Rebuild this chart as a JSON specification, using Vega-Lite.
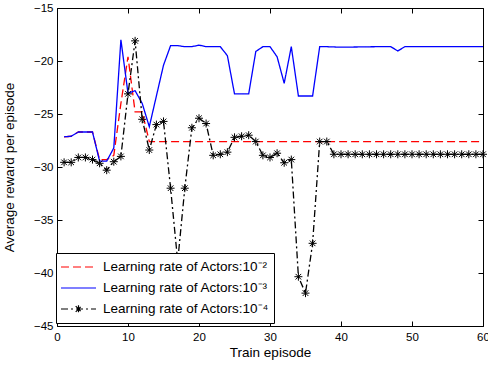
{
  "$schema": "https://vega.github.io/schema/vega-lite/v6.json",
  "width": 426,
  "height": 318,
  "autosize": {"type": "none"},
  "padding": {"left": 57, "top": 8, "right": 5, "bottom": 41},
  "background": "white",
  "config": {
    "view": {"stroke": "black", "strokeWidth": 1},
    "font": "Liberation Sans",
    "axis": {
      "domain": false, "grid": false, "tickColor": "black", "tickSize": -5, "tickWidth": 1,
      "labelColor": "black", "labelFontSize": 11.5, "titleColor": "black", "titleFontSize": 13.5,
      "titleFontWeight": "normal", "labelFlush": false
    },
    "legend": {
      "orient": "none", "legendX": -1, "legendY": 245,
      "padding": 4, "strokeColor": "black", "fillColor": "white",
      "clipHeight": 20, "rowPadding": 1, "labelFontSize": 13.5, "labelColor": "black",
      "symbolSize": 1225, "symbolStrokeWidth": 1.2, "labelOffset": 6, "labelLimit": 300
    }
  },
  "data": {"values": [
    {"ep":1,"v":-27.15,"s":"2"},{"ep":2,"v":-27.1,"s":"2"},{"ep":3,"v":-26.7,"s":"2"},{"ep":4,"v":-26.7,"s":"2"},{"ep":5,"v":-26.7,"s":"2"},
    {"ep":6,"v":-29.3,"s":"2"},{"ep":7,"v":-29.3,"s":"2"},{"ep":8,"v":-28.9,"s":"2"},{"ep":9,"v":-24.0,"s":"2"},{"ep":10,"v":-19.6,"s":"2"},
    {"ep":11,"v":-24.8,"s":"2"},{"ep":12,"v":-24.8,"s":"2"},{"ep":13,"v":-27.6,"s":"2"},{"ep":14,"v":-27.6,"s":"2"},{"ep":15,"v":-27.6,"s":"2"},
    {"ep":20,"v":-27.6,"s":"2"},{"ep":30,"v":-27.6,"s":"2"},{"ep":40,"v":-27.6,"s":"2"},{"ep":50,"v":-27.6,"s":"2"},{"ep":60,"v":-27.6,"s":"2"},

    {"ep":1,"v":-27.15,"s":"3"},{"ep":2,"v":-27.1,"s":"3"},{"ep":3,"v":-26.7,"s":"3"},{"ep":4,"v":-26.7,"s":"3"},{"ep":5,"v":-26.7,"s":"3"},
    {"ep":6,"v":-29.45,"s":"3"},{"ep":7,"v":-29.45,"s":"3"},{"ep":8,"v":-28.2,"s":"3"},{"ep":9,"v":-18.0,"s":"3"},{"ep":10,"v":-23.05,"s":"3"},
    {"ep":11,"v":-22.8,"s":"3"},{"ep":12,"v":-24.0,"s":"3"},{"ep":13,"v":-26.2,"s":"3"},{"ep":14,"v":-23.3,"s":"3"},{"ep":15,"v":-20.4,"s":"3"},
    {"ep":16,"v":-18.55,"s":"3"},{"ep":17,"v":-18.55,"s":"3"},{"ep":18,"v":-18.65,"s":"3"},{"ep":19,"v":-18.65,"s":"3"},{"ep":20,"v":-18.5,"s":"3"},
    {"ep":21,"v":-18.65,"s":"3"},{"ep":22,"v":-18.65,"s":"3"},{"ep":23,"v":-18.65,"s":"3"},{"ep":24,"v":-19.5,"s":"3"},{"ep":25,"v":-23.1,"s":"3"},
    {"ep":26,"v":-23.1,"s":"3"},{"ep":27,"v":-23.1,"s":"3"},{"ep":28,"v":-19.1,"s":"3"},{"ep":29,"v":-18.65,"s":"3"},{"ep":30,"v":-18.65,"s":"3"},
    {"ep":31,"v":-19.6,"s":"3"},{"ep":32,"v":-22.1,"s":"3"},{"ep":33,"v":-18.65,"s":"3"},{"ep":34,"v":-23.3,"s":"3"},{"ep":35,"v":-23.3,"s":"3"},
    {"ep":36,"v":-23.3,"s":"3"},{"ep":37,"v":-18.65,"s":"3"},{"ep":38,"v":-18.65,"s":"3"},{"ep":40,"v":-18.7,"s":"3"},{"ep":45,"v":-18.65,"s":"3"},
    {"ep":47,"v":-18.65,"s":"3"},{"ep":48,"v":-19.05,"s":"3"},{"ep":49,"v":-18.65,"s":"3"},{"ep":55,"v":-18.65,"s":"3"},{"ep":60,"v":-18.65,"s":"3"},

    {"ep":1,"v":-29.56,"s":"4"},{"ep":2,"v":-29.56,"s":"4"},{"ep":3,"v":-29.1,"s":"4"},{"ep":4,"v":-29.1,"s":"4"},{"ep":5,"v":-29.3,"s":"4"},
    {"ep":6,"v":-29.65,"s":"4"},{"ep":7,"v":-30.3,"s":"4"},{"ep":8,"v":-29.5,"s":"4"},{"ep":9,"v":-29.0,"s":"4"},{"ep":10,"v":-23.1,"s":"4"},
    {"ep":11,"v":-18.1,"s":"4"},{"ep":12,"v":-25.5,"s":"4"},{"ep":13,"v":-28.4,"s":"4"},{"ep":14,"v":-26.0,"s":"4"},{"ep":15,"v":-25.7,"s":"4"},
    {"ep":16,"v":-32.0,"s":"4"},{"ep":17,"v":-38.9,"s":"4"},{"ep":18,"v":-32.0,"s":"4"},{"ep":19,"v":-26.3,"s":"4"},{"ep":20,"v":-25.4,"s":"4"},
    {"ep":21,"v":-25.9,"s":"4"},{"ep":22,"v":-28.9,"s":"4"},{"ep":23,"v":-28.8,"s":"4"},{"ep":24,"v":-28.6,"s":"4"},{"ep":25,"v":-27.2,"s":"4"},
    {"ep":26,"v":-27.1,"s":"4"},{"ep":27,"v":-27.0,"s":"4"},{"ep":28,"v":-27.6,"s":"4"},{"ep":29,"v":-28.9,"s":"4"},{"ep":30,"v":-29.1,"s":"4"},
    {"ep":31,"v":-28.7,"s":"4"},{"ep":32,"v":-29.6,"s":"4"},{"ep":33,"v":-29.3,"s":"4"},{"ep":34,"v":-40.35,"s":"4"},{"ep":35,"v":-41.9,"s":"4"},
    {"ep":36,"v":-37.2,"s":"4"},{"ep":37,"v":-27.6,"s":"4"},{"ep":38,"v":-27.6,"s":"4"},{"ep":39,"v":-28.8,"s":"4"},{"ep":40,"v":-28.8,"s":"4"},
    {"ep":41,"v":-28.8,"s":"4"},{"ep":42,"v":-28.8,"s":"4"},{"ep":43,"v":-28.8,"s":"4"},{"ep":44,"v":-28.8,"s":"4"},{"ep":45,"v":-28.8,"s":"4"},
    {"ep":46,"v":-28.8,"s":"4"},{"ep":47,"v":-28.8,"s":"4"},{"ep":48,"v":-28.8,"s":"4"},{"ep":49,"v":-28.8,"s":"4"},{"ep":50,"v":-28.8,"s":"4"},
    {"ep":51,"v":-28.8,"s":"4"},{"ep":52,"v":-28.8,"s":"4"},{"ep":53,"v":-28.8,"s":"4"},{"ep":54,"v":-28.8,"s":"4"},{"ep":55,"v":-28.8,"s":"4"},
    {"ep":56,"v":-28.8,"s":"4"},{"ep":57,"v":-28.8,"s":"4"},{"ep":58,"v":-28.8,"s":"4"},{"ep":59,"v":-28.8,"s":"4"},{"ep":60,"v":-28.8,"s":"4"}
  ]},
  "layer": [
    {
      "mark": {"type": "line", "strokeWidth": 1.3},
      "encoding": {
        "x": {"field": "ep", "type": "quantitative", "scale": {"domain": [0, 60], "nice": false},
              "axis": {"title": "Train episode", "values": [0,10,20,30,40,50,60], "labelPadding": 10, "titlePadding": 3}},
        "y": {"field": "v", "type": "quantitative", "scale": {"domain": [-45, -15], "nice": false, "zero": false},
              "axis": {"title": "Average reward per episode", "values": [-45,-40,-35,-30,-25,-20,-15], "labelPadding": 9, "titlePadding": 17}},
        "color": {"field": "s", "type": "nominal",
                  "scale": {"domain": ["2","3","4"], "range": ["#ff0000", "#0000ff", "#000000"]},
                  "legend": {"title": null, "labelExpr": "'Learning rate of Actors:10⁻' + (datum.label == '2' ? '²' : datum.label == '3' ? '³' : '⁴')"}},
        "strokeDash": {"field": "s", "type": "nominal",
                  "scale": {"domain": ["2","3","4"], "range": [[8,4],[1,0],[7,3,2,3]]},
                  "legend": {"title": null, "labelExpr": "'Learning rate of Actors:10⁻' + (datum.label == '2' ? '²' : datum.label == '3' ? '³' : '⁴')"}}
      }
    },
    {
      "transform": [{"filter": "datum.s == '4'"}],
      "mark": {"type": "point", "shape": "M-1,0L1,0M0,-1L0,1M-0.7,-0.7L0.7,0.7M-0.7,0.7L0.7,-0.7", "filled": false, "color": "black", "strokeWidth": 1, "size": 64, "opacity": 1},
      "encoding": {
        "x": {"field": "ep", "type": "quantitative", "axis": null},
        "y": {"field": "v", "type": "quantitative", "axis": null}
      }
    },
    {
      "transform": [{"filter": "false"}],
      "mark": {"type": "point", "filled": false, "strokeWidth": 1, "opacity": 1},
      "encoding": {
        "x": {"field": "ep", "type": "quantitative", "axis": null},
        "y": {"field": "v", "type": "quantitative", "axis": null},
        "color": {"field": "s", "type": "nominal"},
        "strokeDash": {"field": "s", "type": "nominal"},
        "shape": {"field": "s", "type": "nominal",
                  "scale": {"domain": ["2","3","4"], "range": ["M-1,0H1", "M-1,0H1", "M-1,0H1M0,-0.22V0.22M-0.16,-0.16L0.16,0.16M-0.16,0.16L0.16,-0.16"]},
                  "legend": {"title": null, "labelExpr": "'Learning rate of Actors:10⁻' + (datum.label == '2' ? '²' : datum.label == '3' ? '³' : '⁴')"}}
      }
    },
    {
      "transform": [{"filter": "false"}],
      "mark": {"type": "point"},
      "encoding": {
        "x": {"field": "ep", "type": "quantitative", "axis": {"orient": "top", "labels": false, "title": null, "values": [0,10,20,30,40,50,60]}},
        "y": {"field": "v", "type": "quantitative", "axis": {"orient": "right", "labels": false, "title": null, "values": [-45,-40,-35,-30,-25,-20,-15]}}
      }
    }
  ],
  "resolve": {"axis": {"x": "independent", "y": "independent"}}
}
